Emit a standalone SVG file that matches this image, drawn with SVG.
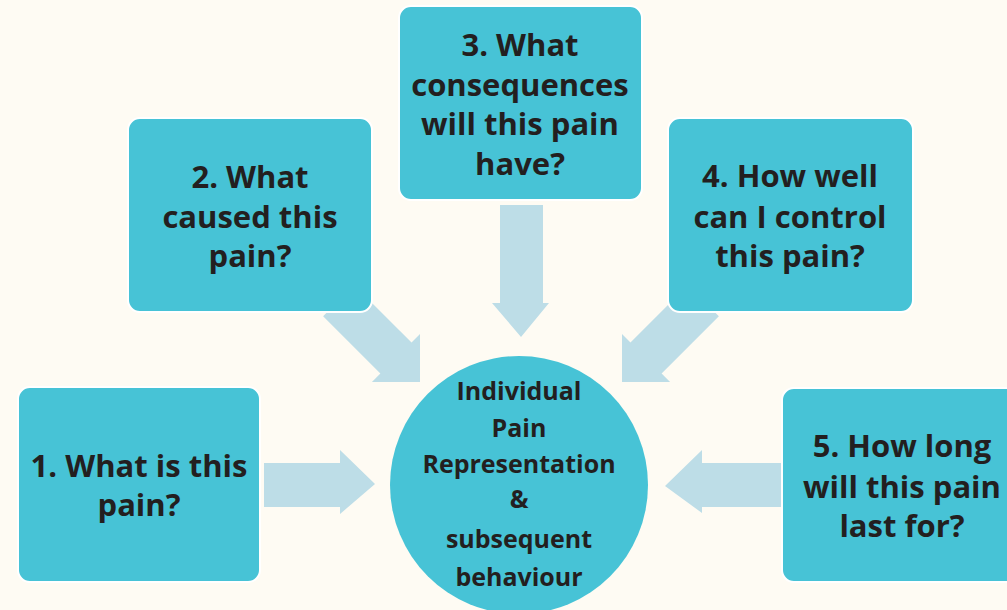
<svg xmlns="http://www.w3.org/2000/svg" width="1007" height="610" viewBox="0 0 1007 610">
  <style>
    .box { fill: #47C3D6; stroke: #FFFFFF; stroke-width: 2; }
    .hub { fill: #47C3D6; }
    .arrow { fill: #BDDDE7; }
    .q { font-family: "Open Sans", "Liberation Sans", sans-serif; font-weight: 700; font-size: 31px; fill: #231F20; text-anchor: middle; }
    .c { font-family: "Open Sans", "Liberation Sans", sans-serif; font-weight: 700; font-size: 25px; fill: #231F20; text-anchor: middle; }
  </style>

  <rect width="1007" height="610" fill="#FEFBF3"/>

  <!-- block arrows pointing in to the central circle -->
  <g id="connectors">
    <!-- 1 -> centre -->
    <path class="arrow" d="M264,463 L340,463 L340,450 L375,484 L340,514 L340,507 L264,507 Z"/>
    <!-- 2 -> centre -->
    <path class="arrow" transform="translate(420,382) rotate(45)" d="M0,0 L-34,-34 L-34,-22 L-115,-22 L-115,22 L-34,22 L-34,34 Z"/>
    <!-- 3 -> centre -->
    <path class="arrow" d="M500,205 L543,205 L543,303 L549,303 L521,337 L492,303 L500,303 Z"/>
    <!-- 4 -> centre -->
    <path class="arrow" transform="translate(622,382) rotate(135)" d="M0,0 L-34,-34 L-34,-22 L-115,-22 L-115,22 L-34,22 L-34,34 Z"/>
    <!-- 5 -> centre -->
    <path class="arrow" d="M785,463 L702,463 L702,450 L665,486 L702,513 L702,507 L785,507 Z"/>
  </g>

  <g id="node-1">
    <rect class="box" x="18" y="387" width="242" height="195" rx="12"/>
    <text class="q" x="139" y="477">1. What is this</text>
    <text class="q" x="139" y="516">pain?</text>
  </g>

  <g id="node-2">
    <rect class="box" x="128" y="118" width="244" height="194" rx="12"/>
    <text class="q" x="250" y="188">2. What</text>
    <text class="q" x="250" y="228">caused this</text>
    <text class="q" x="250" y="267">pain?</text>
  </g>

  <g id="node-3">
    <rect class="box" x="399" y="6" width="243" height="194" rx="12"/>
    <text class="q" x="520" y="56">3. What</text>
    <text class="q" x="520" y="96">consequences</text>
    <text class="q" x="520" y="135">will this pain</text>
    <text class="q" x="520" y="175">have?</text>
  </g>

  <g id="node-4">
    <rect class="box" x="668" y="118" width="245" height="194" rx="12"/>
    <text class="q" x="790" y="187">4. How well</text>
    <text class="q" x="790" y="228">can I control</text>
    <text class="q" x="790" y="267">this pain?</text>
  </g>

  <g id="node-5">
    <rect class="box" x="782" y="388" width="243" height="194" rx="12"/>
    <text class="q" x="902" y="457">5. How long</text>
    <text class="q" x="902" y="498">will this pain</text>
    <text class="q" x="902" y="537">last for?</text>
  </g>

  <g id="node-centre">
    <circle class="hub" cx="519" cy="485" r="129"/>
    <text class="c" x="519" y="400">Individual</text>
    <text class="c" x="519" y="437">Pain</text>
    <text class="c" x="519" y="473">Representation</text>
    <text class="c" x="519" y="508">&amp;</text>
    <text class="c" x="519" y="548">subsequent</text>
    <text class="c" x="519" y="586">behaviour</text>
  </g>
</svg>
